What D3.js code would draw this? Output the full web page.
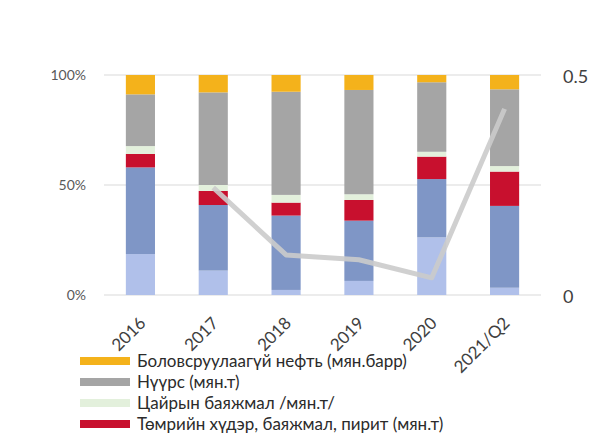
<!DOCTYPE html>
<html><head><meta charset="utf-8">
<script src="https://cdn.jsdelivr.net/npm/d3@7"></script>
<style>body{margin:0;background:#fff}svg{display:block}</style>
</head><body>
<svg id="c" width="592" height="441"></svg>
<script>
const categories = ["2016","2017","2018","2019","2020","2021/Q2"];
const seriesNames = ["Series A","Series B","Төмрийн хүдэр, баяжмал, пирит (мян.т)","Цайрын баяжмал /мян.т/","Нүүрс (мян.т)","Боловсруулаагүй нефть (мян.барр)"];
const lightBlue = [18.6, 11.1, 2.3, 6.4, 26.2, 3.3];
const blue      = [39.4, 29.8, 33.8, 27.4, 26.5, 37.2];
const red       = [6.1, 6.4, 5.9, 9.4, 10.2, 15.6];
const green     = [3.6, 2.7, 3.5, 2.6, 2.2, 2.5];
const coal      = [23.5, 42.1, 46.9, 47.4, 31.6, 34.9];
const oil       = [8.8, 7.9, 7.6, 6.8, 3.3, 6.5];
const lineVals  = [null, 0.244, 0.091, 0.080, 0.039, 0.423];
const leftTicks = [0, 50, 100];
const rightTicks = [0, 0.5];
const colors = ["#b0c0ea","#7f96c6","#c8102e","#e3f0dc","#a5a5a5","#f4b21b"];
const legendOrder = [5,4,3,2];

const svg = d3.select("#c");
const x = d3.scaleBand().domain(categories).range([104,541]).paddingInner(0.6).paddingOuter(0.3);
const y = d3.scaleLinear().domain([0,100]).range([295,75]);
const y2 = d3.scaleLinear().domain([0,0.5]).range([295,75]);

// gridlines
svg.append("g").selectAll("line").data(leftTicks).join("line")
  .attr("x1",104).attr("x2",541).attr("y1",d=>y(d)).attr("y2",d=>y(d))
  .attr("stroke","#d9d9d9").attr("stroke-width",1);

const rows = categories.map((c,i)=>{
  const o={cat:c}; [lightBlue,blue,red,green,coal,oil].forEach((s,k)=>o["s"+k]=s[i]); return o;});
const stack = d3.stack().keys([0,1,2,3,4,5].map(k=>"s"+k))(rows);
svg.append("g").selectAll("g").data(stack).join("g").attr("fill",(d,i)=>colors[i])
  .selectAll("rect").data(d=>d).join("rect")
  .attr("x",d=>x(d.data.cat)).attr("width",x.bandwidth())
  .attr("y",d=>y(d[1])).attr("height",d=>y(d[0])-y(d[1]));

// line
const line = d3.line().defined(d=>d!=null).x((d,i)=>x(categories[i])+x.bandwidth()/2).y(d=>y2(d));
svg.append("path").datum(lineVals).attr("d",line).attr("fill","none")
  .attr("stroke","#cbcbcb").attr("stroke-width",5).attr("stroke-linejoin","round").attr("stroke-opacity",0.9);

// left axis labels
svg.append("g").selectAll("text").data(leftTicks).join("text")
  .attr("x",86).attr("y",d=>y(d)).attr("dy","0.35em").attr("text-anchor","end")
  .attr("font-family","Lato, sans-serif").attr("font-size",14).attr("fill","#595959")
  .text(d=>d+"%");
// right axis labels
svg.append("g").selectAll("text").data(rightTicks).join("text")
  .attr("x",563).attr("y",d=>y2(d)+2).attr("dy","0.35em").attr("text-anchor","start")
  .attr("font-family","Lato, sans-serif").attr("font-size",18).attr("fill","#404040")
  .text(d=>d);

// x labels
svg.append("g").selectAll("text").data(categories).join("text")
  .attr("transform",d=>`translate(${x(d)+x.bandwidth()/2+2},${320}) rotate(-45)`)
  .attr("text-anchor","end").attr("dy","0.35em")
  .attr("font-family","Lato, sans-serif").attr("font-size",17).attr("fill","#404040")
  .text(d=>d);

// legend
const lg = svg.append("g").selectAll("g").data(legendOrder).join("g")
  .attr("transform",(d,i)=>`translate(80,${361+i*21})`);
lg.append("rect").attr("x",0).attr("y",-4).attr("width",50).attr("height",8).attr("fill",d=>colors[d]);
lg.append("text").attr("x",57).attr("dy","0.35em")
  .attr("font-family","Lato, sans-serif").attr("font-size",17).attr("fill","#2b2b2b")
  .text(d=>seriesNames[d]);
</script>
</body></html>
